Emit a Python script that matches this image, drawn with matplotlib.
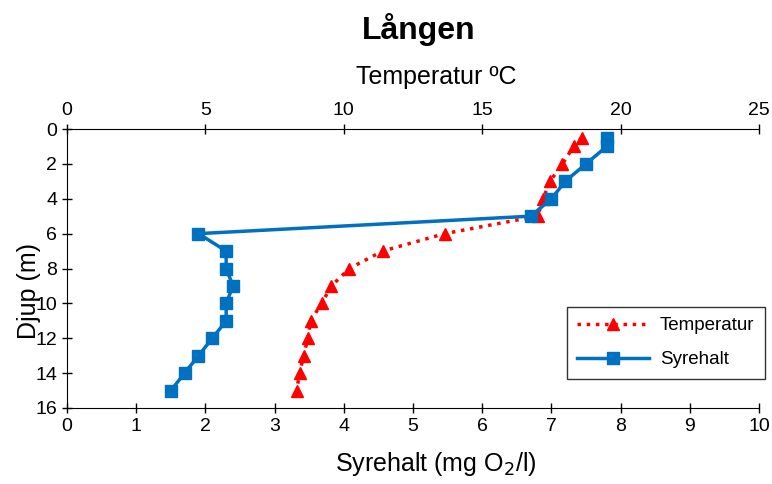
import matplotlib
matplotlib.use("Agg")
import matplotlib.pyplot as plt

plt.rcParams['font.family'] = ['Liberation Sans', 'DejaVu Sans']

# Depth profile data for Lången
depth = [0.5, 1, 2, 3, 4, 5, 6, 7, 8, 9, 10, 11, 12, 13, 14, 15]
temperatur = [18.6, 18.3, 17.9, 17.45, 17.2, 17.0, 13.65, 11.4, 10.2, 9.55,
              9.2, 8.8, 8.7, 8.55, 8.4, 8.3]
syrehalt = [7.8, 7.8, 7.5, 7.2, 7.0, 6.7, 1.9, 2.3, 2.3, 2.4,
            2.3, 2.3, 2.1, 1.9, 1.7, 1.5]

temp_ticks = [0, 5, 10, 15, 20, 25]
oxy_ticks = list(range(0, 11))
depth_ticks = list(range(0, 17, 2))

fig = plt.figure(figsize=(7.72, 4.84), dpi=100)
ax = fig.add_axes([67 / 772, 1 - 408 / 484, 692 / 772, 279 / 484])
ax2 = ax.twiny()

# Temperature on the top axis
l_temp, = ax2.plot(temperatur, depth, color='red', linestyle=':', linewidth=2.5,
                   marker='^', markersize=9, label='Temperatur')
ax2.set_xlim(0, 25)
ax2.set_xticks(temp_ticks)
ax2.set_xlabel('Temperatur ºC', fontsize=18, labelpad=13)

# Oxygen on the bottom axis
l_oxy, = ax.plot(syrehalt, depth, color='#0070C0', linewidth=2.5,
                 marker='s', markersize=9, label='Syrehalt')
ax.set_xlim(0, 10)
ax.set_xticks(oxy_ticks)
ax.set_ylim(16, 0)
ax.set_yticks(depth_ticks)
ax.set_xlabel('Syrehalt (mg O$_2$/l)', fontsize=18, labelpad=11)
ax.set_ylabel('Djup (m)', fontsize=18)
ax.yaxis.set_label_coords(-0.038, 0.42)

# labels sit a little right of the axes centre in the original
ax.xaxis.label.set_x(0.533)
ax2.xaxis.label.set_x(0.533)

# put oxygen line above temperature
ax.set_zorder(ax2.get_zorder() + 1)
ax.patch.set_visible(False)

for a in (ax, ax2):
    a.tick_params(direction='inout', length=7, width=1, labelsize=14, colors='black')
    a.spines['right'].set_visible(False)
ax.spines['top'].set_visible(False)
ax2.spines['bottom'].set_visible(False)
ax2.spines['left'].set_visible(False)
ax2.spines['top'].set_visible(True)

leg = fig.legend([l_temp, l_oxy], ['Temperatur', 'Syrehalt'],
                 loc='upper left', bbox_to_anchor=(567 / 772, 1 - 307 / 484),
                 borderaxespad=0, fontsize=13.5, frameon=True, fancybox=False,
                 edgecolor='black', handlelength=3.8, labelspacing=0.9,
                 borderpad=0.55, handletextpad=0.6)
leg.get_frame().set_linewidth(1)

fig.text(419 / 772, 1 - 30 / 484, 'Lången', ha='center', va='center',
         fontsize=23, fontweight='bold')

fig.savefig('out.png', dpi=100)
